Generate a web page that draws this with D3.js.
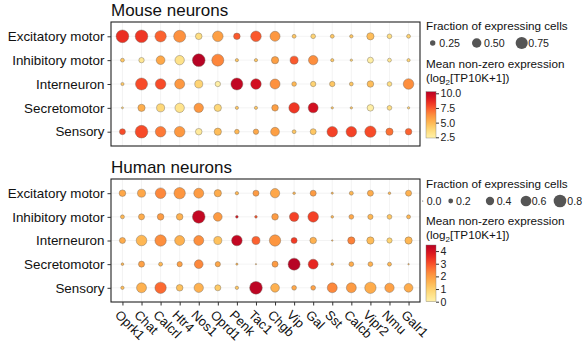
<!DOCTYPE html>
<html>
<head>
<meta charset="utf-8">
<script src="https://cdn.jsdelivr.net/npm/d3@7"></script>
<style>
  body { margin: 0; background: #fff; }
  svg { display: block; font-family: "Liberation Sans", Arial, Helvetica, sans-serif; }
</style>
</head>
<body>
<svg id="chart" width="585" height="343"></svg>
<script>
// genes on the x axis, cell types on the y axis
const genes = ["Oprk1", "Chat", "Calcrl", "Htr4", "Nos1", "Oprd1", "Penk", "Tac1",
               "Chgb", "Vip", "Gal", "Sst", "Calcb", "Vipr2", "Nmu", "Galr1"];
const cellTypes = ["Excitatory motor", "Inhibitory motor", "Interneuron", "Secretomotor", "Sensory"];

// mouse: mean non-zero expression (log2[TP10K+1])
const mouseExpr = [
  [8.5, 8.3, 7.3, 6.2, 3.5, 5.8, 7.5, 7.5, 6.0, 4.5, 4.0, 4.5, 4.5, 4.8, 3.5, 4.0],
  [4.5, 3.0, 5.5, 3.3, 10.3, 6.5, 4.5, 4.5, 5.8, 7.5, 6.3, 4.5, 4.0, 2.5, 3.0, 4.0],
  [4.5, 7.8, 7.8, 6.0, 4.0, 2.5, 10.0, 9.5, 6.2, 5.0, 4.0, 4.5, 4.5, 4.8, 3.5, 6.3],
  [4.0, 5.3, 3.8, 3.2, 6.0, 3.8, 4.5, 4.5, 5.8, 8.3, 9.5, 4.5, 4.5, 2.5, 3.5, 4.0],
  [7.8, 7.8, 6.8, 6.0, 2.8, 4.8, 5.0, 5.5, 5.8, 4.5, 4.5, 8.0, 8.0, 7.8, 7.0, 7.3]
];
// mouse: fraction of expressing cells
const mouseFrac = [
  [0.81, 0.80, 0.67, 0.74, 0.31, 0.60, 0.31, 0.60, 0.55, 0.19, 0.22, 0.19, 0.175, 0.35, 0.22, 0.19],
  [0.19, 0.25, 0.45, 0.50, 0.81, 0.74, 0.17, 0.17, 0.35, 0.40, 0.50, 0.17, 0.15, 0.28, 0.19, 0.17],
  [0.17, 0.74, 0.60, 0.55, 0.40, 0.25, 0.74, 0.60, 0.55, 0.22, 0.25, 0.25, 0.19, 0.31, 0.22, 0.60],
  [0.143, 0.35, 0.40, 0.50, 0.50, 0.35, 0.17, 0.17, 0.31, 0.60, 0.55, 0.15, 0.15, 0.31, 0.22, 0.15],
  [0.28, 0.81, 0.60, 0.60, 0.31, 0.35, 0.22, 0.25, 0.45, 0.19, 0.28, 0.60, 0.60, 0.67, 0.35, 0.31]
];

// human: mean non-zero expression
const humanExpr = [
  [1.8, 1.8, 2.3, 2.1, 2.0, 1.7, 1.5, 2.0, 1.8, 1.5, 2.0, 1.5, 1.5, 1.7, 1.5, 1.6],
  [1.5, 1.7, 2.0, 1.6, 4.3, 2.0, 4.0, 3.0, 2.0, 3.2, 3.2, 1.5, 1.8, 1.5, 1.2, 1.5],
  [1.7, 1.5, 2.2, 1.6, 2.2, 1.3, 4.3, 2.8, 2.1, 3.3, 1.6, 1.5, 2.4, 1.4, 0.9, 1.5],
  [1.5, 1.9, 1.5, 1.9, 2.3, 1.8, 1.5, 1.5, 2.0, 4.5, 3.6, 1.5, 1.7, 1.6, 1.5, 1.5],
  [1.4, 1.6, 2.7, 1.3, 1.6, 1.1, 1.2, 4.4, 1.6, 1.8, 1.9, 2.3, 2.0, 1.7, 1.9, 1.7]
];
// human: fraction of expressing cells
const humanFrac = [
  [0.29, 0.38, 0.59, 0.66, 0.53, 0.33, 0.15, 0.26, 0.48, 0.13, 0.26, 0.12, 0.17, 0.26, 0.13, 0.26],
  [0.17, 0.26, 0.29, 0.29, 0.80, 0.43, 0.13, 0.13, 0.29, 0.48, 0.59, 0.13, 0.20, 0.22, 0.20, 0.17],
  [0.26, 0.59, 0.66, 0.53, 0.53, 0.38, 0.59, 0.38, 0.66, 0.26, 0.29, 0.11, 0.33, 0.33, 0.22, 0.33],
  [0.13, 0.26, 0.17, 0.22, 0.43, 0.22, 0.12, 0.105, 0.26, 0.73, 0.53, 0.13, 0.20, 0.20, 0.17, 0.11],
  [0.15, 0.53, 0.66, 0.29, 0.48, 0.26, 0.15, 0.80, 0.43, 0.20, 0.20, 0.53, 0.53, 0.66, 0.48, 0.43]
];

// legend ticks
const mouseSizeTicks = [0.25, 0.5, 0.75];
const humanSizeTicks = [0, 0.2, 0.4, 0.6, 0.8];
const mouseColorTicks = [2.5, 5.0, 7.5, 10.0];
const humanColorTicks = [0, 1, 2, 3, 4];

const svg = d3.select("#chart");
const ramp = t => d3.interpolateYlOrRd(0.1 + 0.78 * t);

function drawPanel(o) {
  const x = d3.scalePoint().domain(genes).range([111, 420]).padding(0.6);
  const y = d3.scalePoint().domain(cellTypes).range([o.top, o.bottom]).padding(0.6);
  const color = d3.scaleSequential(ramp).domain(o.colorDomain).clamp(true);
  const size = d3.scaleRadial().domain(o.sizeDomain).range([0, o.maxR]).clamp(true);
  const radius = f => Math.max(0.6, size(f));

  // title
  svg.append("text")
    .attr("x", 111).attr("y", o.top - 6)
    .attr("font-size", 17).attr("fill", "#111")
    .text(o.title);

  const g = svg.append("g");

  // grid
  g.selectAll(".vg").data(genes).enter().append("line")
    .attr("x1", d => x(d)).attr("x2", d => x(d))
    .attr("y1", o.top).attr("y2", o.bottom)
    .attr("stroke", "#ebebeb").attr("stroke-width", 0.6);
  g.selectAll(".hg").data(cellTypes).enter().append("line")
    .attr("y1", d => y(d)).attr("y2", d => y(d))
    .attr("x1", 111).attr("x2", 420)
    .attr("stroke", "#ebebeb").attr("stroke-width", 0.6);

  // dots
  const cells = [];
  cellTypes.forEach((c, i) => genes.forEach((gn, j) => {
    cells.push({ cell: c, gene: gn, expr: o.expr[i][j], frac: o.frac[i][j] });
  }));
  g.selectAll(".dot").data(cells).enter().append("circle")
    .attr("cx", d => x(d.gene))
    .attr("cy", d => y(d.cell))
    .attr("r", d => radius(d.frac))
    .attr("fill", d => color(d.expr))
    .attr("stroke", "#6e6458").attr("stroke-opacity", 0.7)
    .attr("stroke-width", 0.6);

  // border
  svg.append("rect")
    .attr("x", 111).attr("y", o.top)
    .attr("width", 309).attr("height", o.bottom - o.top)
    .attr("fill", "none").attr("stroke", "#222").attr("stroke-width", 1.1);

  // y axis
  const ya = svg.append("g")
    .attr("transform", "translate(111,0)")
    .call(d3.axisLeft(y).tickSize(3.5).tickPadding(3));
  ya.select(".domain").remove();
  ya.selectAll("line").attr("stroke", "#333");
  ya.selectAll("text").attr("font-size", 13.4).attr("fill", "#111")
    .attr("font-family", "Liberation Sans, Arial, sans-serif");

  // x axis (bottom panel only)
  if (o.xAxis) {
    const xa = svg.append("g")
      .attr("transform", `translate(0,${o.bottom})`)
      .call(d3.axisBottom(x).tickSize(3.5));
    xa.select(".domain").remove();
    xa.selectAll("line").attr("stroke", "#333");
    xa.selectAll("text")
      .attr("font-size", 13).attr("fill", "#111")
      .attr("font-family", "Liberation Sans, Arial, sans-serif")
      .attr("text-anchor", "start")
      .attr("y", 0).attr("dy", "0.72em")
      .attr("transform", "translate(-2,7) rotate(45)");
  }

  // size legend
  const lg = svg.append("g");
  lg.append("text").attr("x", 426).attr("y", o.legTop)
    .attr("font-size", 11.7).attr("fill", "#111")
    .text("Fraction of expressing cells");
  o.sizeTicks.forEach((t, i) => {
    const cx = o.keyX[i];
    lg.append("circle")
      .attr("cx", cx).attr("cy", o.legTop + 13)
      .attr("r", radius(t)).attr("fill", "#555");
    lg.append("text")
      .attr("x", o.labX[i]).attr("y", o.legTop + 13).attr("dy", "0.36em")
      .attr("font-size", 10.6).attr("fill", "#222")
      .text(d3.format(o.sizeFmt)(t));
  });

  // colour legend
  lg.append("text").attr("x", 426).attr("y", o.cTitle)
    .attr("font-size", 11.7).attr("fill", "#111")
    .text("Mean non-zero expression");
  const sub = lg.append("text").attr("x", 426).attr("y", o.cTitle + 13.5)
    .attr("font-size", 11.7).attr("fill", "#111");
  sub.append("tspan").text("(log");
  sub.append("tspan").attr("font-size", 8).attr("dy", 3).text("2");
  sub.append("tspan").attr("dy", -3).text("[TP10K+1])");

  const gid = "grad" + o.id;
  const grad = svg.append("defs").append("linearGradient")
    .attr("id", gid).attr("x1", 0).attr("y1", 1).attr("x2", 0).attr("y2", 0);
  d3.range(0, 1.0001, 0.05).forEach(t => {
    grad.append("stop").attr("offset", t)
      .attr("stop-color", color(o.colorDomain[0] + t * (o.colorDomain[1] - o.colorDomain[0])));
  });
  const cy = d3.scaleLinear().domain(o.colorDomain).range([o.barBottom, o.barTop]);
  lg.append("rect")
    .attr("x", 426).attr("y", o.barTop)
    .attr("width", 10).attr("height", o.barBottom - o.barTop)
    .attr("fill", `url(#${gid})`)
    .attr("stroke", "#777").attr("stroke-width", 0.4);
  const ca = lg.append("g")
    .attr("transform", "translate(436,0)")
    .call(d3.axisRight(cy).tickValues(o.colorTicks).tickSize(3).tickPadding(1.5)
      .tickFormat(d3.format(o.colorFmt)));
  ca.select(".domain").remove();
  ca.selectAll("line").attr("stroke", "#333");
  ca.selectAll("text").attr("font-size", 10.6).attr("fill", "#222")
    .attr("font-family", "Liberation Sans, Arial, sans-serif");
}

drawPanel({
  id: "m", title: "Mouse neurons", top: 22, bottom: 146,
  expr: mouseExpr, frac: mouseFrac,
  colorDomain: [2.38, 10.27], sizeDomain: [0.126, 0.9], maxR: 6.75,
  legTop: 30, sizeTicks: mouseSizeTicks, sizeFmt: ".2f",
  keyX: [432.7, 476.7, 521.7], labX: [439.3, 484, 528.3],
  cTitle: 68, barTop: 91.7, barBottom: 138, colorTicks: mouseColorTicks, colorFmt: ".1f",
  xAxis: false
});

drawPanel({
  id: "h", title: "Human neurons", top: 179, bottom: 302,
  expr: humanExpr, frac: humanFrac,
  colorDomain: [0, 4.48], sizeDomain: [0.1, 0.9], maxR: 6.78,
  legTop: 188, sizeTicks: humanSizeTicks, sizeFmt: ".1f",
  keyX: [422.7, 450.7, 490, 526, 560], labX: [426.7, 456, 496.7, 531.7, 567.3],
  cTitle: 225, barTop: 245, barBottom: 301.7, colorTicks: humanColorTicks, colorFmt: "d",
  xAxis: true
});
</script>
</body>
</html>
